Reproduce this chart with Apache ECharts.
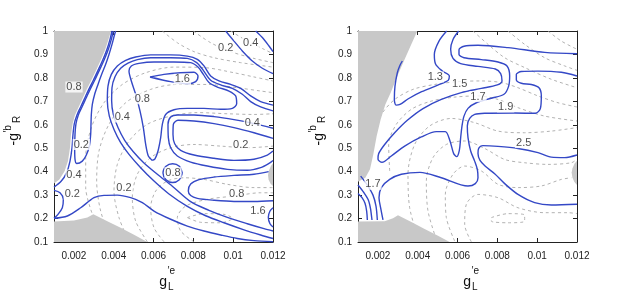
<!DOCTYPE html>
<html><head><meta charset="utf-8">
<script src="https://cdn.jsdelivr.net/npm/echarts@6.0.0/dist/echarts.min.js"></script>
<style>html,body{margin:0;padding:0;background:#fff;}#c{width:623px;height:292px;}</style>
</head><body><div id="c"></div>
<script>
// ---------- axes ----------
const xTicks = [0.002, 0.004, 0.006, 0.008, 0.010, 0.012];
const yTicks = [0.1, 0.2, 0.3, 0.4, 0.5, 0.6, 0.7, 0.8, 0.9, 1.0];

// ---------- LEFT PANEL: excluded (grey) regions ----------
const leftGrayTopLeft = [[1e-3,1],[3.863e-3,1],[3.712e-3,0.957],[3.545e-3,0.915],[3.344e-3,0.875],[3.110e-3,0.832],[2.875e-3,0.790],[2.641e-3,0.750],[2.440e-3,0.713],[2.239e-3,0.676],[2.055e-3,0.642],[1.938e-3,0.605],[1.854e-3,0.559],[1.804e-3,0.502],[1.703e-3,0.445],[1.536e-3,0.403],[1.268e-3,0.367],[1e-3,0.349]];
const leftGrayBottom = [[1e-3,0.1],[1e-3,0.187],[2.005e-3,0.192],[2.674e-3,0.204],[2.976e-3,0.218],[3.679e-3,0.189],[4.348e-3,0.161],[5.018e-3,0.131],[5.688e-3,0.1]];
const leftGrayRight = [[12e-3,0.436],[11.9e-3,0.425],[11.8e-3,0.405],[11.75e-3,0.386],[11.78e-3,0.365],[11.88e-3,0.348],[12e-3,0.339]];

// ---------- LEFT PANEL: solid contours ----------
const leftBandOuter = [[3.913e-3,1],[3.813e-3,0.964],[3.662e-3,0.922],[3.444e-3,0.875],[3.210e-3,0.832],[2.976e-3,0.790],[2.741e-3,0.750],[2.540e-3,0.713],[2.339e-3,0.676],[2.155e-3,0.642],[2.021e-3,0.605],[1.954e-3,0.559],[1.904e-3,0.502],[1.804e-3,0.445],[1.636e-3,0.396],[1.368e-3,0.360],[1e-3,0.334]];
const leftBandU = [[3.980e-3,1],[3.880e-3,0.964],[3.729e-3,0.922],[3.511e-3,0.875],[3.277e-3,0.832],[3.043e-3,0.790],[2.808e-3,0.750],[2.607e-3,0.713],[2.406e-3,0.676],[2.222e-3,0.642],[2.105e-3,0.605],[2.055e-3,0.559],[2.038e-3,0.502],[2.055e-3,0.453],[2.138e-3,0.435],[2.423e-3,0.445],[2.624e-3,0.471],[2.775e-3,0.509],[2.842e-3,0.559],[2.858e-3,0.602],[2.875e-3,0.644],[2.925e-3,0.687],[3.043e-3,0.730],[3.210e-3,0.772],[3.394e-3,0.815],[3.595e-3,0.858],[3.762e-3,0.900],[3.913e-3,0.943],[4.047e-3,0.986],[4.097e-3,1]];
const leftEdgeLoop = [[1e-3,0.320],[1.301e-3,0.310],[1.469e-3,0.282],[1.419e-3,0.246],[1.201e-3,0.218],[1e-3,0.201]];
const leftBottom = [[1e-3,0.201],[1.670e-3,0.211],[2.339e-3,0.246],[3.009e-3,0.289],[3.511e-3,0.299],[4.181e-3,0.300],[4.851e-3,0.289],[5.437e-3,0.268],[6.023e-3,0.232],[6.860e-3,0.197],[7.697e-3,0.168],[8.534e-3,0.147],[9.371e-3,0.130],[10.208e-3,0.115],[11.045e-3,0.106],[12e-3,0.101]];
const leftBigOuter = [[12e-3,0.684],[11.38e-3,0.699],[10.878e-3,0.723],[10.376e-3,0.755],[9.873e-3,0.772],[9.287e-3,0.787],[8.869e-3,0.808],[8.534e-3,0.851],[8.199e-3,0.879],[7.697e-3,0.893],[6.86e-3,0.898],[5.855e-3,0.898],[5.102e-3,0.889],[4.6e-3,0.875],[4.181e-3,0.851],[3.88e-3,0.815],[3.712e-3,0.765],[3.679e-3,0.701],[3.779e-3,0.637],[4.014e-3,0.58],[4.348e-3,0.524],[4.767e-3,0.474],[5.353e-3,0.417],[6.023e-3,0.36],[6.776e-3,0.305],[7.697e-3,0.252],[8.618e-3,0.212],[9.538e-3,0.182],[10.543e-3,0.152],[11.38e-3,0.13],[12e-3,0.115]];
const leftBigInner = [[12e-3,0.659],[11.38e-3,0.676],[10.878e-3,0.699],[10.459e-3,0.73],[9.957e-3,0.755],[9.371e-3,0.77],[8.869e-3,0.79],[8.5e-3,0.832],[8.166e-3,0.865],[7.697e-3,0.883],[6.86e-3,0.886],[5.855e-3,0.886],[5.186e-3,0.878],[4.717e-3,0.863],[4.348e-3,0.841],[4.064e-3,0.805],[3.913e-3,0.758],[3.896e-3,0.701],[3.98e-3,0.644],[4.214e-3,0.588],[4.549e-3,0.534],[4.985e-3,0.485],[5.52e-3,0.437],[6.19e-3,0.389],[6.944e-3,0.338],[7.864e-3,0.272],[8.785e-3,0.235],[9.706e-3,0.205],[10.71e-3,0.178],[11.548e-3,0.157],[12e-3,0.147]];
const leftTongue08 = [[5.939e-3,0.448],[5.738e-3,0.467],[5.604e-3,0.517],[5.487e-3,0.588],[5.319e-3,0.659],[5.102e-3,0.73],[4.884e-3,0.787],[4.767e-3,0.829],[4.884e-3,0.851],[5.269e-3,0.862],[6.023e-3,0.868],[7.027e-3,0.868],[7.864e-3,0.865],[8.232e-3,0.846],[8.5e-3,0.815],[8.785e-3,0.78],[9.203e-3,0.761],[9.789e-3,0.744],[10.124e-3,0.723],[10.175e-3,0.69],[9.957e-3,0.67],[9.371e-3,0.666],[8.534e-3,0.67],[7.697e-3,0.67],[7.027e-3,0.664],[6.609e-3,0.644],[6.441e-3,0.602],[6.358e-3,0.545],[6.224e-3,0.488],[6.073e-3,0.455],[5.939e-3,0.448]];
const leftLoop16 = [[5.822e-3,0.804],[6.525e-3,0.815],[7.362e-3,0.822],[8.032e-3,0.824],[8.233e-3,0.808],[8.116e-3,0.784],[7.697e-3,0.775],[6.86e-3,0.784],[5.822e-3,0.804]];
const leftLoop04 = [[12e-3,0.585],[11.045e-3,0.605],[10.041e-3,0.622],[9.036e-3,0.635],[8.032e-3,0.642],[7.195e-3,0.642],[6.86e-3,0.633],[6.726e-3,0.602],[6.743e-3,0.545],[6.86e-3,0.502],[7.195e-3,0.467],[7.864e-3,0.441],[8.701e-3,0.424],[9.706e-3,0.41],[10.71e-3,0.406],[11.38e-3,0.417],[11.799e-3,0.435],[12e-3,0.448]];
const leftLoop02 = [[12e-3,0.542],[11.045e-3,0.566],[10.041e-3,0.588],[9.036e-3,0.605],[8.032e-3,0.616],[7.228e-3,0.619],[6.994e-3,0.602],[6.977e-3,0.559],[7.061e-3,0.519],[7.362e-3,0.491],[8.032e-3,0.471],[9.036e-3,0.457],[10.041e-3,0.448],[11.045e-3,0.453],[11.715e-3,0.471],[12e-3,0.488]];
const leftCircle08 = [[7.446e-3,0.394],[7.295e-3,0.366],[6.96e-3,0.354],[6.625e-3,0.366],[6.475e-3,0.394],[6.625e-3,0.423],[6.96e-3,0.434],[7.295e-3,0.423],[7.446e-3,0.394]];
const leftLowTongue = [[11.78e-3,0.4],[11.045e-3,0.389],[10.041e-3,0.384],[9.036e-3,0.377],[8.283e-3,0.366],[7.864e-3,0.347],[7.747e-3,0.318],[7.864e-3,0.298],[8.199e-3,0.286],[9.036e-3,0.278],[10.041e-3,0.273],[11.045e-3,0.273],[12e-3,0.276]];
const leftEdge16 = [[12e-3,0.246],[11.849e-3,0.232],[11.765e-3,0.206],[11.849e-3,0.178],[12e-3,0.164]];
const leftTopRightA = [[9.622e-3,1],[10.041e-3,0.957],[10.459e-3,0.915],[10.962e-3,0.872],[11.464e-3,0.841],[12e-3,0.818]];
const leftTopRightB = [[11.129e-3,1],[11.464e-3,0.972],[11.799e-3,0.936],[12e-3,0.912]];

// ---------- LEFT PANEL: dashed contours ----------
const leftDashT1 = [[6.441e-3,1],[7.195e-3,0.950],[8.032e-3,0.912],[9.036e-3,0.886],[10.376e-3,0.865],[12e-3,0.846]];
const leftDashT2 = [[7.998e-3,1],[8.869e-3,0.950],[9.873e-3,0.912],[11.045e-3,0.883],[12e-3,0.865]];
const leftDashT3 = [[9.873e-3,1],[10.711e-3,0.957],[11.548e-3,0.922],[12e-3,0.903]];
const leftDashH5 = [[2.9e-3,0.225],[2.591e-3,0.332],[2.591e-3,0.460],[2.875e-3,0.588],[3.511e-3,0.694],[4.432e-3,0.772],[5.604e-3,0.822],[7.027e-3,0.846],[8.534e-3,0.844],[10.041e-3,0.822],[11.045e-3,0.804],[12e-3,0.787]];
const leftDashH4 = [[3.846e-3,0.111],[3.344e-3,0.232],[3.143e-3,0.360],[3.260e-3,0.488],[3.762e-3,0.602],[4.600e-3,0.694],[5.855e-3,0.751],[7.195e-3,0.772],[8.701e-3,0.772],[10.208e-3,0.758],[11.380e-3,0.744],[12e-3,0.737]];
const leftDashH3 = [[4.767e-3,0.101],[4.265e-3,0.204],[4.014e-3,0.317],[4.181e-3,0.431],[4.767e-3,0.531],[5.688e-3,0.602],[6.860e-3,0.637],[8.199e-3,0.652],[9.706e-3,0.647],[11.045e-3,0.644],[12e-3,0.647]];
const leftDashH2 = [[5.688e-3,0.101],[5.102e-3,0.189],[4.934e-3,0.289],[5.186e-3,0.389],[5.855e-3,0.460],[6.860e-3,0.502],[8.032e-3,0.516],[9.371e-3,0.509],[10.711e-3,0.502],[12e-3,0.509]];
const leftDashH1 = [[6.525e-3,0.101],[6.023e-3,0.161],[5.855e-3,0.246],[6.106e-3,0.317],[6.692e-3,0.360],[7.529e-3,0.374],[8.534e-3,0.367],[9.706e-3,0.346],[11.045e-3,0.332],[12e-3,0.332]];
const leftDashH0 = [[8.032e-3,0.101],[7.362e-3,0.147],[7.195e-3,0.204],[7.613e-3,0.253],[8.701e-3,0.282],[10.041e-3,0.296],[11.380e-3,0.310],[12e-3,0.310]];
const leftDashOval = [[7.697e-3,0.204],[8.534e-3,0.221],[9.538e-3,0.218],[9.957e-3,0.201],[9.371e-3,0.182],[8.367e-3,0.184],[7.697e-3,0.204]];

// ---------- LEFT PANEL: contour labels [text, x, y] ----------
const leftLabels = [['0.2',9.622e-3,0.926],['0.4',10.878e-3,0.950],['0.8',2.005e-3,0.761],['1.6',7.446e-3,0.794],['0.8',5.437e-3,0.711],['0.4',4.432e-3,0.633],['0.4',10.962e-3,0.609],['0.2',10.376e-3,0.516],['0.2',2.373e-3,0.516],['0.8',6.977e-3,0.396],['0.4',2.005e-3,0.386],['0.8',10.175e-3,0.303],['0.2',1.921e-3,0.303],['0.2',4.516e-3,0.332],['1.6',11.246e-3,0.232]];

// ---------- RIGHT PANEL: excluded (grey) regions ----------
const rightGrayTopLeft = [[1e-3,1],[3.980e-3,1],[3.679e-3,0.943],[3.344e-3,0.879],[2.976e-3,0.808],[2.641e-3,0.737],[2.373e-3,0.687],[2.138e-3,0.623],[1.938e-3,0.552],[1.770e-3,0.474],[1.603e-3,0.410],[1.368e-3,0.374],[1e-3,0.357]];
const rightGrayBottom = [[1e-3,0.1],[1e-3,0.187],[2.339e-3,0.189],[2.758e-3,0.201],[3.009e-3,0.214],[3.679e-3,0.185],[4.348e-3,0.155],[5.018e-3,0.127],[5.604e-3,0.1]];
const rightGrayRight = [[12e-3,0.447],[11.88e-3,0.435],[11.77e-3,0.414],[11.73e-3,0.396],[11.77e-3,0.375],[11.87e-3,0.356],[12e-3,0.343]];

// ---------- RIGHT PANEL: solid contours ----------
const rightC13 = [[5.453e-3,1],[5.068e-3,0.957],[4.834e-3,0.900],[4.901e-3,0.858],[5.236e-3,0.829],[5.587e-3,0.808],[5.537e-3,0.790],[5.035e-3,0.770],[4.198e-3,0.741],[3.528e-3,0.711],[3.110e-3,0.687],[2.909e-3,0.684],[2.825e-3,0.708],[2.858e-3,0.765],[2.976e-3,0.822],[3.093e-3,0.851],[3.227e-3,0.872]];
const rightC15 = [[6.056e-3,1],[5.772e-3,0.964],[5.654e-3,0.922],[5.772e-3,0.883],[6.157e-3,0.861],[7.027e-3,0.849],[7.898e-3,0.838],[8.166e-3,0.818],[8.233e-3,0.787],[7.998e-3,0.770],[7.195e-3,0.755],[6.190e-3,0.737],[5.186e-3,0.708],[4.265e-3,0.669],[3.478e-3,0.619],[2.842e-3,0.566],[2.339e-3,0.516],[2.038e-3,0.477],[2.005e-3,0.453],[2.205e-3,0.440],[2.674e-3,0.467],[3.344e-3,0.509],[4.181e-3,0.548],[4.934e-3,0.571],[5.386e-3,0.571],[5.621e-3,0.531],[5.805e-3,0.477],[5.956e-3,0.464],[6.090e-3,0.491],[6.157e-3,0.545],[6.224e-3,0.595],[6.324e-3,0.637],[6.525e-3,0.670],[6.944e-3,0.694],[7.697e-3,0.713],[8.333e-3,0.730],[8.567e-3,0.765],[8.618e-3,0.808],[8.484e-3,0.851],[8.032e-3,0.868],[7.195e-3,0.878],[6.324e-3,0.886],[6.073e-3,0.900],[6.073e-3,0.920],[6.324e-3,0.935],[7.027e-3,0.939],[8.534e-3,0.929],[10.376e-3,0.909],[12e-3,0.903]];
const rightC19 = [[2.256e-3,0.194],[2.138e-3,0.246],[2.055e-3,0.289],[2.172e-3,0.332],[2.591e-3,0.367],[3.177e-3,0.389],[4.114e-3,0.397],[5.186e-3,0.374],[6.525e-3,0.339],[6.893e-3,0.349],[7.027e-3,0.374],[6.994e-3,0.410],[6.860e-3,0.445],[6.659e-3,0.488],[6.525e-3,0.545],[6.491e-3,0.595],[6.609e-3,0.627],[6.860e-3,0.644],[7.362e-3,0.649],[8.869e-3,0.650],[9.907e-3,0.649],[10.158e-3,0.669],[10.208e-3,0.723],[10.091e-3,0.758],[9.706e-3,0.772],[9.203e-3,0.777],[8.953e-3,0.792],[8.953e-3,0.815],[9.203e-3,0.827],[10.041e-3,0.829],[11.213e-3,0.824],[12e-3,0.808]];
const rightC25 = [[12e-3,0.471],[11.380e-3,0.460],[10.711e-3,0.462],[10.041e-3,0.481],[9.036e-3,0.499],[8.032e-3,0.508],[7.278e-3,0.511],[7.061e-3,0.499],[7.027e-3,0.477],[7.128e-3,0.448],[7.395e-3,0.423],[7.864e-3,0.391],[8.367e-3,0.349],[9.036e-3,0.303],[9.873e-3,0.268],[10.711e-3,0.258],[12e-3,0.261]];
const rightCornerA = [[1.134e-3,0.381],[1.469e-3,0.343],[1.753e-3,0.300],[1.904e-3,0.253],[1.971e-3,0.194]];
const rightCornerB = [[1e-3,0.343],[1.301e-3,0.310],[1.519e-3,0.279],[1.636e-3,0.239],[1.703e-3,0.194]];
const rightCornerC = [[1e-3,0.307],[1.201e-3,0.289],[1.352e-3,0.265],[1.435e-3,0.232],[1.469e-3,0.194]];

// ---------- RIGHT PANEL: dashed contours ----------
const rightDash1 = [[1.670e-3,0.460],[1.753e-3,0.559],[2.172e-3,0.644],[2.842e-3,0.708],[3.762e-3,0.751],[4.851e-3,0.772],[6.023e-3,0.784],[7.195e-3,0.787],[8.199e-3,0.780],[9.036e-3,0.758],[10.041e-3,0.723],[11.045e-3,0.694],[12e-3,0.676]];
const rightDash2 = [[2.591e-3,0.403],[2.540e-3,0.516],[2.925e-3,0.602],[3.679e-3,0.666],[4.683e-3,0.701],[5.855e-3,0.718],[7.027e-3,0.723],[8.032e-3,0.708],[9.036e-3,0.673],[10.376e-3,0.637],[12e-3,0.616]];
const rightDash3 = [[4.014e-3,0.118],[3.595e-3,0.246],[3.511e-3,0.389],[3.846e-3,0.516],[4.600e-3,0.595],[5.688e-3,0.627],[6.860e-3,0.609],[8.032e-3,0.573],[9.371e-3,0.566],[10.711e-3,0.573],[12e-3,0.588]];
const rightDash4 = [[4.934e-3,0.111],[4.516e-3,0.232],[4.432e-3,0.360],[4.767e-3,0.460],[5.437e-3,0.516],[6.358e-3,0.531],[7.362e-3,0.499],[8.367e-3,0.452],[9.371e-3,0.438],[10.543e-3,0.431],[11.715e-3,0.438],[12e-3,0.453]];
const rightDash5 = [[5.855e-3,0.104],[5.437e-3,0.204],[5.386e-3,0.303],[5.772e-3,0.389],[6.358e-3,0.424],[7.195e-3,0.403],[8.032e-3,0.346],[9.036e-3,0.332],[10.208e-3,0.339],[11.213e-3,0.367],[11.715e-3,0.374]];
const rightDash6 = [[6.692e-3,0.101],[6.358e-3,0.175],[6.441e-3,0.261],[7.027e-3,0.303],[8.032e-3,0.289],[9.036e-3,0.246],[10.376e-3,0.225],[11.548e-3,0.225],[12e-3,0.221]];
const rightDashOval = [[7.697e-3,0.204],[8.534e-3,0.221],[9.371e-3,0.215],[9.371e-3,0.189],[8.534e-3,0.182],[7.697e-3,0.189],[7.697e-3,0.204]];
const rightDash8 = [[6.776e-3,1],[7.530e-3,0.943],[8.367e-3,0.886],[9.371e-3,0.844],[10.711e-3,0.794],[12e-3,0.758]];
const rightDash9 = [[8.534e-3,1],[9.371e-3,0.943],[10.376e-3,0.886],[11.380e-3,0.851],[12e-3,0.832]];
const rightDash10 = [[10.543e-3,1],[11.213e-3,0.957],[12e-3,0.922]];

// ---------- RIGHT PANEL: contour labels ----------
const rightLabels = [['1.3',4.884e-3,0.804],['1.5',6.106e-3,0.772],['1.7',7.027e-3,0.720],['1.9',8.417e-3,0.676],['2.5',9.321e-3,0.524],['1.7',1.753e-3,0.346]];

// ---------- styling ----------
const BLUE = '#3448c6';
const DASH = '#a9a9a9';
const GRAY = '#c8c8c8';
const INK = '#222';
const FONT = '"Liberation Sans", Arial, sans-serif';

function solid(data, g) {
  return { type: 'line', xAxisIndex: g * 2, yAxisIndex: g * 2, data, symbol: 'none', showSymbol: false,
    smooth: 0.3, silent: true, z: 4, lineStyle: { color: BLUE, width: 1.4 } };
}
function dashed(data, g) {
  return { type: 'line', xAxisIndex: g * 2, yAxisIndex: g * 2, data, symbol: 'none', showSymbol: false,
    smooth: 0.3, silent: true, z: 1, lineStyle: { color: DASH, width: 0.9, type: [3, 3] } };
}
function shade(points, g) {
  return { type: 'custom', xAxisIndex: g * 2, yAxisIndex: g * 2, data: points, silent: true, z: 2, clip: true,
    renderItem(params, api) {
      if (params.dataIndex !== 0) return null;
      return { type: 'polygon', shape: { points: points.map(p => api.coord(p)) }, style: { fill: GRAY } };
    } };
}
function labels(list, g) {
  return { type: 'scatter', xAxisIndex: g * 2, yAxisIndex: g * 2, symbolSize: 1, silent: true, z: 6,
    itemStyle: { color: 'rgba(0,0,0,0)' },
    data: list.map(([t, x, y]) => ({ name: t, value: [x, y] })),
    label: { show: true, position: 'inside', formatter: '{b}', fontSize: 11, fontFamily: FONT, color: INK,
      backgroundColor: '#fff', padding: [0, 1] } };
}
function xAx(g, pos, show) {
  return { type: 'value', gridIndex: g, position: pos, min: 0.001, max: 0.012,
    splitLine: { show: false },
    axisLine: { show: true, onZero: false, lineStyle: { color: INK, width: 1 } },
    axisTick: { show: true, inside: true, length: 4, customValues: xTicks, lineStyle: { color: INK } },
    axisLabel: { show: show, customValues: xTicks, formatter: v => String(+(+v).toFixed(3)),
      fontSize: 10, fontFamily: FONT, color: INK, margin: 9 } };
}
function yAx(g, pos, show) {
  return { type: 'value', gridIndex: g, position: pos, min: 0.1, max: 1,
    splitLine: { show: false },
    axisLine: { show: true, onZero: false, lineStyle: { color: INK, width: 1 } },
    axisTick: { show: true, inside: true, length: 4, customValues: yTicks, lineStyle: { color: INK } },
    axisLabel: { show: show, customValues: yTicks, formatter: v => String(+(+v).toFixed(1)),
      fontSize: 10, fontFamily: FONT, color: INK, margin: 6 } };
}
function txt(text, x, y, size, align) {
  return { type: 'text', silent: true, style: { text, x, y, font: size + 'px ' + FONT, fill: '#111',
    align: align, textAlign: align, verticalAlign: 'middle', textVerticalAlign: 'middle' } };
}
function titleX(x, y) {
  return { type: 'group', x, y, children: [ txt('g', 0, 0, 14, 'right'), txt('\u2032e', 0.5, -11, 10, 'left'), txt('L', 1, 5, 10, 'left') ] };
}
function titleY(x, y) {
  return { type: 'group', x, y, rotation: Math.PI / 2, children: [ txt('-g', 0, 0, 14, 'right'), txt('\u2032b', 0.5, -6, 10, 'left'), txt('R', 10, 3, 10, 'left') ] };
}

const series = [];
[leftDashT1, leftDashT2, leftDashT3, leftDashH5, leftDashH4, leftDashH3, leftDashH2, leftDashH1, leftDashH0, leftDashOval].forEach(d => series.push(dashed(d, 0)));
[leftGrayTopLeft, leftGrayBottom, leftGrayRight].forEach(d => series.push(shade(d, 0)));
[leftBandOuter, leftBandU, leftEdgeLoop, leftBottom, leftBigOuter, leftBigInner, leftTongue08, leftLoop16, leftLoop04, leftLoop02, leftCircle08, leftLowTongue, leftEdge16, leftTopRightA, leftTopRightB].forEach(d => series.push(solid(d, 0)));
series.push(labels(leftLabels, 0));
[rightDash1, rightDash2, rightDash3, rightDash4, rightDash5, rightDash6, rightDashOval, rightDash8, rightDash9, rightDash10].forEach(d => series.push(dashed(d, 1)));
[rightGrayTopLeft, rightGrayBottom, rightGrayRight].forEach(d => series.push(shade(d, 1)));
[rightC13, rightC15, rightC19, rightC25, rightCornerA, rightCornerB, rightCornerC].forEach(d => series.push(solid(d, 1)));
series.push(labels(rightLabels, 1));

const chart = echarts.init(document.getElementById('c'), null, { renderer: 'canvas' });
chart.setOption({
  animation: false,
  backgroundColor: '#fff',
  grid: [ { left: 54, top: 31, width: 219, height: 211 }, { left: 358, top: 31, width: 219, height: 211 } ],
  xAxis: [ xAx(0, 'bottom', true), xAx(0, 'top', false), xAx(1, 'bottom', true), xAx(1, 'top', false) ],
  yAxis: [ yAx(0, 'left', true), yAx(0, 'right', false), yAx(1, 'left', true), yAx(1, 'right', false) ],
  series,
  graphic: [ titleX(167, 282), titleX(471, 282), titleY(14, 133), titleY(319, 133) ]
});
</script></body></html>
